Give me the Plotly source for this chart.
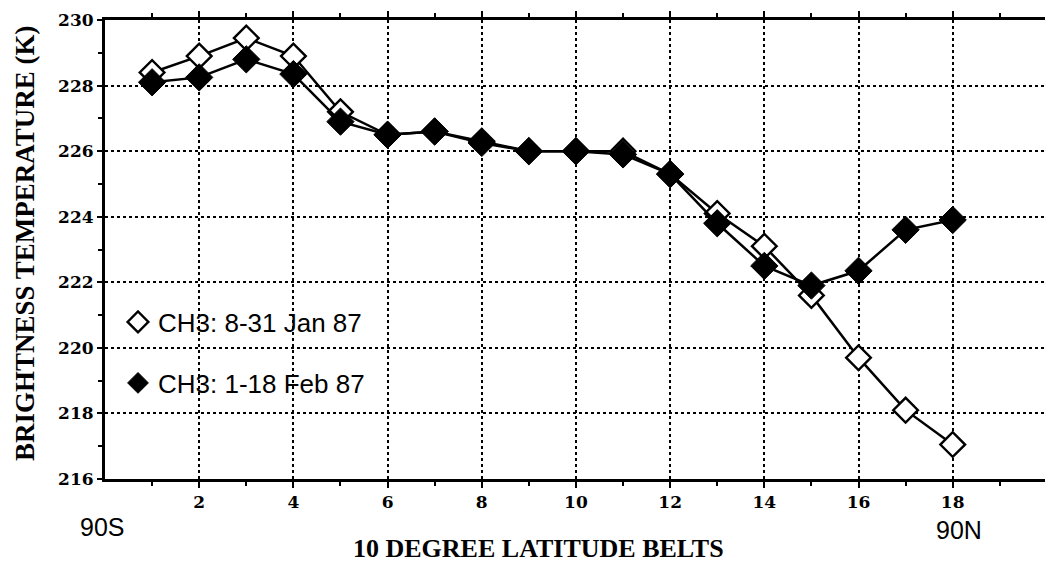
import plotly.graph_objects as go

# Latitude belt index (1 = 90S-80S ... 18 = 80N-90N)
belts = list(range(1, 19))

# CH3 brightness temperature (K), 8-31 Jan 87
jan_tb = [228.4, 228.9, 229.45, 228.9, 227.2, 226.5, 226.6, 226.3, 226.0,
          226.0, 226.0, 225.3, 224.1, 223.1, 221.6, 219.7, 218.1, 217.05]

# CH3 brightness temperature (K), 1-18 Feb 87
feb_tb = [228.1, 228.25, 228.8, 228.35, 226.9, 226.5, 226.6, 226.25, 226.0,
          226.0, 225.9, 225.3, 223.8, 222.5, 221.9, 222.35, 223.6, 223.9]

x_ticks = [2, 4, 6, 8, 10, 12, 14, 16, 18]
y_ticks = [216, 218, 220, 222, 224, 226, 228, 230]

jan_name = "CH3: 8-31 Jan 87"
feb_name = "CH3: 1-18 Feb 87"

W, H = 1045, 565
L, R, T, B = 105, 0, 20, 86
pw, ph = W - L - R, H - T - B


def px(x):
    return (x - L) / pw


def py(y):
    return (H - B - y) / ph


fig = go.Figure()

# connecting lines
fig.add_trace(go.Scatter(x=belts, y=jan_tb, mode="lines", showlegend=False,
                         line=dict(color="black", width=2.5), hoverinfo="skip"))
fig.add_trace(go.Scatter(x=belts, y=jan_tb, mode="markers", name=jan_name,
                         legend="legend",
                         marker=dict(symbol="diamond", size=19, color="white",
                                     line=dict(color="black", width=2.4))))
fig.add_trace(go.Scatter(x=belts, y=feb_tb, mode="lines", showlegend=False,
                         line=dict(color="black", width=2.5), hoverinfo="skip"))
fig.add_trace(go.Scatter(x=belts, y=feb_tb, mode="markers", name=feb_name,
                         legend="legend2",
                         marker=dict(symbol="diamond", size=21, color="black",
                                     line=dict(color="black", width=1))))

tick_font = dict(family="DejaVu Serif", size=17, color="black", weight="bold")
leg_font = dict(family="Liberation Sans", size=26, color="black")
title_font = dict(family="Liberation Serif", color="black", weight="bold")

fig.update_xaxes(range=[0, 19.96], tickvals=x_ticks, ticktext=[str(v) for v in x_ticks],
                 showline=True, linecolor="black", linewidth=3, mirror="ticks",
                 ticks="outside", ticklen=6, tickwidth=2, tickcolor="black",
                 minor=dict(tickvals=[1, 3, 5, 7, 9, 11, 13, 15, 17, 19],
                            ticks="outside", ticklen=4, tickwidth=2, tickcolor="black",
                            showgrid=False),
                 showgrid=True, gridcolor="black", gridwidth=1.6, griddash="dot",
                 zeroline=False, tickfont=tick_font)
fig.update_yaxes(range=[216, 230], tickvals=y_ticks, ticktext=[str(v) for v in y_ticks],
                 showline=True, linecolor="black", linewidth=3,
                 ticks="outside", ticklen=5, tickwidth=2, tickcolor="black",
                 minor=dict(tickvals=[217, 219, 221, 223, 225, 227, 229],
                            ticks="outside", ticklen=4, tickwidth=2, tickcolor="black",
                            showgrid=False),
                 showgrid=True, gridcolor="black", gridwidth=1.6, griddash="dot",
                 zeroline=False, tickfont=tick_font)

fig.update_layout(
    width=W, height=H,
    margin=dict(l=L, r=R, t=T, b=B),
    paper_bgcolor="white", plot_bgcolor="white",
    legend=dict(x=px(118), y=py(322), xanchor="left", yanchor="middle",
                bgcolor="rgba(0,0,0,0)", font=leg_font, itemwidth=30),
    legend2=dict(x=px(118), y=py(383), xanchor="left", yanchor="middle",
                 bgcolor="rgba(0,0,0,0)", font=leg_font, itemwidth=30),
    annotations=[
        dict(text="BRIGHTNESS TEMPERATURE (K)", textangle=-90, showarrow=False,
             xref="paper", yref="paper", x=px(25), y=py(243),
             xanchor="center", yanchor="middle",
             font=dict(title_font, size=27)),
        dict(text="10 DEGREE LATITUDE BELTS", showarrow=False,
             xref="paper", yref="paper", x=px(538), y=py(548),
             xanchor="center", yanchor="middle",
             font=dict(title_font, size=26)),
        dict(text="90S", showarrow=False, xref="paper", yref="paper",
             x=px(102), y=py(527), xanchor="center", yanchor="middle",
             font=dict(family="Liberation Sans", size=25, color="black")),
        dict(text="90N", showarrow=False, xref="paper", yref="paper",
             x=px(959), y=py(530), xanchor="center", yanchor="middle",
             font=dict(family="Liberation Sans", size=25, color="black")),
    ],
)

fig.write_html("out.html")
